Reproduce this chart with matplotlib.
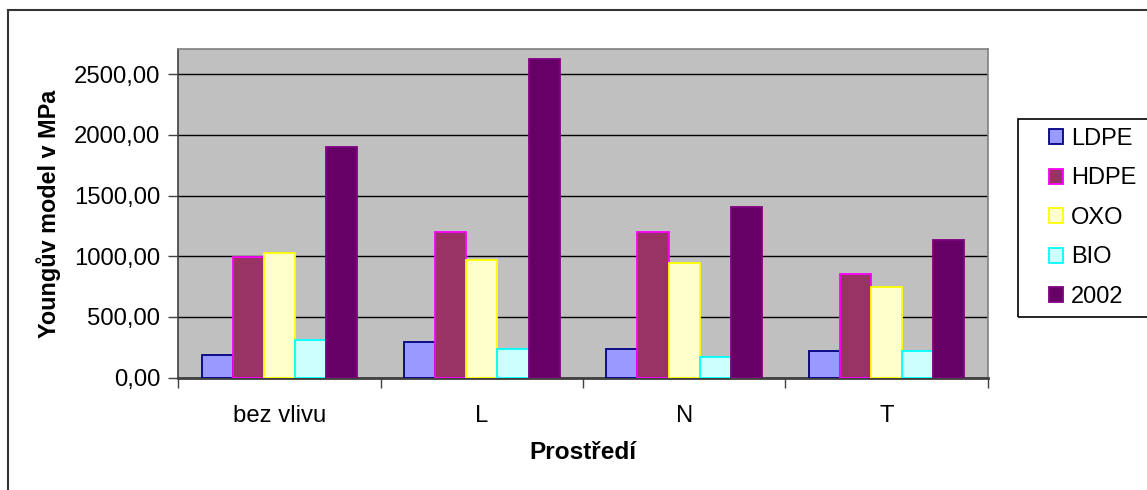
import matplotlib
matplotlib.use("Agg")
import matplotlib.pyplot as plt
import numpy as np
from matplotlib.patches import Rectangle
from matplotlib.ticker import FuncFormatter, MultipleLocator

# Youngův modul pro jednotlivé materiály a prostředí
prostredi = ["bez vlivu", "L", "N", "T"]
materialy = ["LDPE", "HDPE", "OXO", "BIO", "2002"]
ldpe = [187, 297, 234, 220]
hdpe = [995, 1198, 1198, 857]
oxo = [1025, 967, 947, 747]
bio = [310, 234, 173, 220]
r2002 = [1900, 2628, 1404, 1137]
hodnoty = [ldpe, hdpe, oxo, bio, r2002]

vyplne = ["#9999FF", "#993366", "#FFFFCC", "#CCFFFF", "#660066"]
okraje = ["#000080", "#FF00FF", "#FFFF00", "#00FFFF", "#800080"]

W, H = 1147, 490
fig = plt.figure(figsize=(W / 100, H / 100), dpi=100, facecolor="white")
plt.rcParams["font.family"] = ["Liberation Sans", "DejaVu Sans"]

ax = fig.add_axes([178.3 / W, 1 - 377.7 / H, 809.4 / W, 328.4 / H])
ax.set_facecolor("#C0C0C0")

x = np.arange(len(prostredi))
sirka = 1 / 6.5
sloupce = []
for i, (jmeno, data) in enumerate(zip(materialy, hodnoty)):
    b = ax.bar(x + (i - 2) * sirka, data, width=sirka, color=vyplne[i],
               edgecolor=okraje[i], linewidth=1.3, label=jmeno, zorder=3)
    sloupce.append(b)

ax.set_xlim(-0.5, 3.5)
ax.set_ylim(0, 2705)
ax.yaxis.set_major_locator(MultipleLocator(500))
ax.yaxis.set_major_formatter(FuncFormatter(lambda v, p: f"{v:.2f}".replace(".", ",")))
ax.grid(axis="y", color="black", linewidth=1.0, zorder=1)

ax.set_xticks(np.arange(-0.5, 4.0, 1.0))
ax.set_xticklabels([])
ax.set_xticks(x, minor=True)
ax.set_xticklabels(prostredi, minor=True, fontsize=17.2)
ax.tick_params(axis="x", which="minor", length=0, pad=20)
ax.tick_params(axis="x", which="major", length=7, width=1, color="#404040", direction="out")
ax.tick_params(axis="y", length=7, width=1, color="#404040", labelsize=17.2, pad=6)

for s in ["top", "right"]:
    ax.spines[s].set_color("#808080")
    ax.spines[s].set_linewidth(1.2)
ax.spines["left"].set_color("#404040")
ax.spines["left"].set_linewidth(1.2)
ax.spines["bottom"].set_color("#404040")
ax.spines["bottom"].set_linewidth(2)

ax.set_ylabel("Youngův model v MPa", fontsize=16.8, fontweight="bold", labelpad=9)
ax.set_xlabel("Prostředí", fontsize=17.6, fontweight="bold", labelpad=10)

# legenda
fig.patches.append(Rectangle((1018.3 / W, 1 - 317.3 / H), 150 / W, 198 / H,
                             transform=fig.transFigure, facecolor="none",
                             edgecolor="black", linewidth=1.2, zorder=0))
leg = ax.legend(handles=sloupce, loc="upper left",
                bbox_to_anchor=(1049 / W, 1 - 128 / H), bbox_transform=fig.transFigure,
                frameon=False, fontsize=17, handlelength=0.6, handleheight=0.6,
                handletextpad=0.33, labelspacing=0.74, borderaxespad=0, borderpad=0)

# rámeček grafu
fig.patches.append(Rectangle((8.3 / W, -0.1), 1.2, (1 - 10 / H) + 0.1,
                             transform=fig.transFigure, facecolor="none",
                             edgecolor="#333333", linewidth=1.5, zorder=10))

fig.savefig("out.png", dpi=100, facecolor="white")
